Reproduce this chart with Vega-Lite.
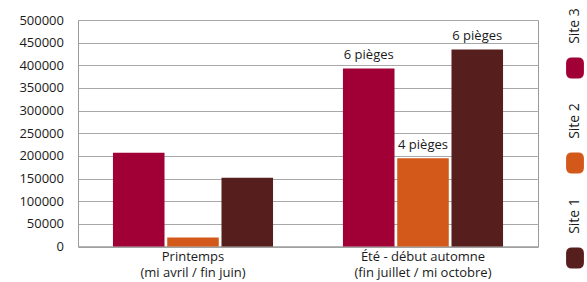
{
  "$schema": "https://vega.github.io/schema/vega-lite/v6.json",
  "padding": {"left": 18, "top": 8, "right": 0, "bottom": 0},
  "background": "white",
  "spacing": 26,
  "config": {
    "font": "Open Sans",
    "view": {"stroke": null},
    "text": {"font": "Open Sans", "fontSize": 13, "color": "#1a1a1a"}
  },
  "datasets": {
    "mesures": [
      {"saison": "Printemps|(mi avril / fin juin)", "site": "Site 3", "valeur": 207000, "etiquette": ""},
      {"saison": "Printemps|(mi avril / fin juin)", "site": "Site 2", "valeur": 20000, "etiquette": ""},
      {"saison": "Printemps|(mi avril / fin juin)", "site": "Site 1", "valeur": 152000, "etiquette": ""},
      {"saison": "Été - début automne|(fin juillet  / mi octobre)", "site": "Site 3", "valeur": 393000, "etiquette": "6 pièges"},
      {"saison": "Été - début automne|(fin juillet  / mi octobre)", "site": "Site 2", "valeur": 195000, "etiquette": "4 pièges"},
      {"saison": "Été - début automne|(fin juillet  / mi octobre)", "site": "Site 1", "valeur": 435000, "etiquette": "6 pièges"}
    ],
    "sites": [
      {"site": "Site 3"},
      {"site": "Site 2"},
      {"site": "Site 1"}
    ]
  },
  "hconcat": [
    {
      "data": {"name": "mesures"},
      "width": 460,
      "height": 226.5,
      "view": {"stroke": "#9a9a9a", "strokeWidth": 1},
      "encoding": {
        "x": {
          "field": "saison",
          "type": "nominal",
          "sort": null,
          "scale": {"paddingInner": 0.304, "paddingOuter": 0.152},
          "axis": {
            "title": null,
            "labelAngle": 0,
            "labelExpr": "split(datum.label, '|')",
            "labelFont": "Open Sans",
            "labelFontSize": 13,
            "labelColor": "#1a1a1a",
            "labelLineHeight": 16,
            "labelPadding": 4,
            "labelBaseline": "top",
            "ticks": false,
            "tickSize": 0,
            "domain": true,
            "domainColor": "#9a9a9a",
            "domainWidth": 1,
            "grid": false,
            "labelLimit": 0
          }
        },
        "xOffset": {
          "field": "site",
          "type": "nominal",
          "sort": ["Site 3", "Site 2", "Site 1"],
          "scale": {"paddingInner": 0.05, "paddingOuter": 0}
        },
        "y": {
          "field": "valeur",
          "type": "quantitative",
          "scale": {"domain": [0, 500000], "nice": false},
          "axis": {
            "title": null,
            "tickCount": 10,
            "format": "d",
            "labelFont": "Open Sans",
            "labelFontSize": 13,
            "labelColor": "#1a1a1a",
            "labelPadding": 14.5,
            "ticks": false,
            "tickSize": 0,
            "domain": false,
            "grid": true,
            "gridColor": "#a8a8a8",
            "gridWidth": 1
          }
        }
      },
      "layer": [
        {
          "mark": {"type": "bar"},
          "encoding": {
            "color": {
              "field": "site",
              "type": "nominal",
              "scale": {"domain": ["Site 3", "Site 2", "Site 1"], "range": ["#a00035", "#d2591a", "#561e1d"]},
              "legend": null
            }
          }
        },
        {
          "mark": {"type": "text", "baseline": "alphabetic", "align": "center", "dy": -9, "fontSize": 13, "color": "#1a1a1a"},
          "encoding": {"text": {"field": "etiquette", "type": "nominal"}}
        }
      ]
    },
    {
      "data": {"name": "sites"},
      "width": 20,
      "height": 190,
      "encoding": {
        "y": {
          "field": "site",
          "type": "nominal",
          "sort": ["Site 3", "Site 2", "Site 1"],
          "scale": {"type": "point", "padding": 0},
          "axis": null
        }
      },
      "layer": [
        {
          "mark": {"type": "text", "angle": 270, "align": "center", "baseline": "middle", "fontSize": 14, "color": "#1a1a1a", "yOffset": 6},
          "encoding": {"text": {"field": "site", "type": "nominal"}}
        },
        {
          "mark": {
            "type": "point",
            "shape": "M -0.85 -0.45 Q -0.85 -1 -0.3 -1 L 0.3 -1 Q 0.85 -1 0.85 -0.45 L 0.85 0.45 Q 0.85 1 0.3 1 L -0.3 1 Q -0.85 1 -0.85 0.45 Z",
            "filled": true,
            "opacity": 1,
            "size": 440,
            "yOffset": 48
          },
          "encoding": {
            "color": {
              "field": "site",
              "type": "nominal",
              "scale": {"domain": ["Site 3", "Site 2", "Site 1"], "range": ["#a00035", "#d2591a", "#561e1d"]},
              "legend": null
            }
          }
        }
      ]
    }
  ]
}
